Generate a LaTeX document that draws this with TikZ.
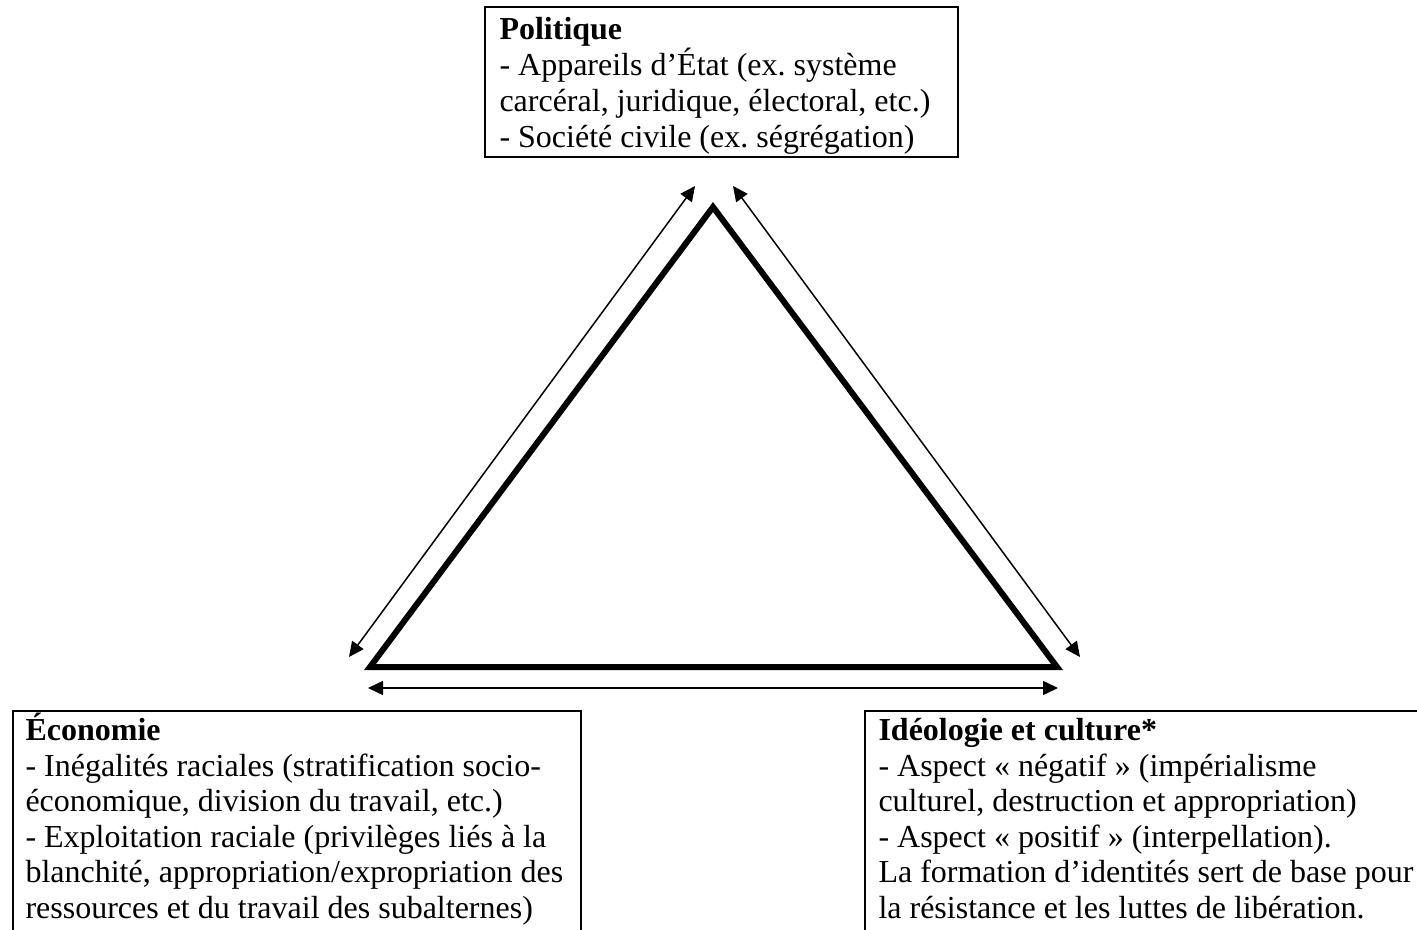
\documentclass[tikz,border=0pt]{standalone}
\usepackage{fontspec}
\setmainfont{Liberation Serif}
\usetikzlibrary{arrows.meta}
\frenchspacing
\begin{document}
\begin{tikzpicture}[x=0.4pt,y=-0.4pt,
  txt/.style={anchor=base west,align=left,inner sep=0pt,font=\fontsize{12.8}{14.2}\selectfont},
  frame/.style={line width=0.8pt},
  tri/.style={line width=2.4pt,line join=miter},
  link/.style={line width=0.6pt,{Triangle[length=6pt,width=5.6pt]}-{Triangle[length=6pt,width=5.6pt]}}]
\useasboundingbox (0,0) rectangle (1417,930);
% boxes
\draw[frame] (485,7) rectangle (958,157);
\draw[frame] (13,935) -- (13,711) -- (581,711) -- (581,935);
\draw[frame] (865,935) -- (865,711) -- (1425,711);
\node[txt,font=\fontsize{12.8}{14.5}\selectfont] (pol) at (499,148) {\textbf{Politique}\\- Appareils d’État (ex. système\\carcéral, juridique, électoral, etc.)\\- Société civile (ex. ségrégation)};
\node[txt] (eco) at (25,918) {\textbf{Économie}\\- Inégalités raciales (stratification socio-\\économique, division du travail, etc.)\\- Exploitation raciale (privilèges liés à la\\blanchité, appropriation/expropriation des\\ressources et du travail des subalternes)};
\node[txt] (ide) at (878,918) {\textbf{Idéologie et culture*}\\- Aspect « négatif » (impérialisme\\culturel, destruction et appropriation)\\- Aspect « positif » (interpellation).\\La formation d’identités sert de base pour\\la résistance et les luttes de libération.};
% triangle
\coordinate (A) at (713,207);
\coordinate (B) at (370,667);
\coordinate (C) at (1057,667);
\draw[tri] (A) -- (B) -- (C) -- cycle;
% arrows
\coordinate (l1) at (349,657);
\coordinate (l2) at (695,186);
\coordinate (r1) at (733,186);
\coordinate (r2) at (1080,657);
\coordinate (b1) at (368,688);
\coordinate (b2) at (1058,688);
\draw[link] (l1) -- (l2);
\draw[link] (r1) -- (r2);
\draw[link] (b1) -- (b2);
\end{tikzpicture}
\end{document}
